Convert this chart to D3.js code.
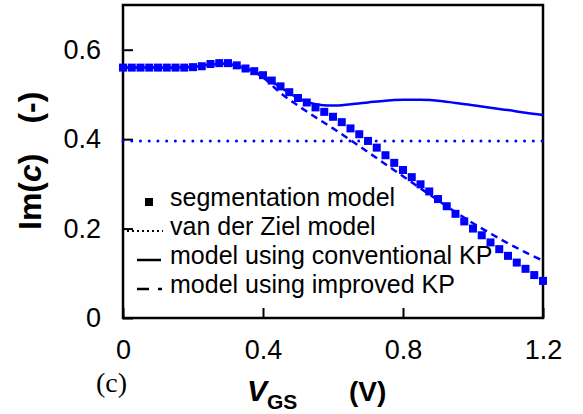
<!DOCTYPE html>
<html>
<head>
<meta charset="utf-8">
<script src="https://cdn.jsdelivr.net/npm/d3@7"></script>
<style>
  html, body { margin: 0; padding: 0; background: #fff; }
  svg { display: block; font-family: "Liberation Sans", Arial, sans-serif; }
</style>
</head>
<body>
<svg id="chart" width="583" height="414"></svg>
<script>
// Gate voltage sweep for the segmentation model (V)
const vgsSeg = [0, 0.025, 0.05, 0.075, 0.1, 0.125, 0.15, 0.175, 0.2, 0.225,
  0.25, 0.275, 0.3, 0.325, 0.35, 0.375, 0.4, 0.425, 0.45, 0.475,
  0.5, 0.525, 0.55, 0.575, 0.6, 0.625, 0.65, 0.675, 0.7, 0.725,
  0.75, 0.775, 0.8, 0.825, 0.85, 0.875, 0.9, 0.925, 0.95, 0.975,
  1.0, 1.025, 1.05, 1.075, 1.1, 1.125, 1.15, 1.175, 1.2];
// Im(c) from the segmentation model
const imSeg = [0.560, 0.560, 0.560, 0.560, 0.560, 0.560, 0.560, 0.560, 0.561, 0.563,
  0.568, 0.570, 0.570, 0.565, 0.558, 0.552, 0.543, 0.531, 0.518, 0.505,
  0.492, 0.482, 0.471, 0.461, 0.450, 0.438, 0.424, 0.411, 0.396, 0.381,
  0.364, 0.347, 0.331, 0.315, 0.299, 0.283, 0.266, 0.250, 0.233, 0.216,
  0.200, 0.185, 0.169, 0.154, 0.139, 0.124, 0.110, 0.096, 0.083];

// Gate voltage grid for the analytical models (V)
const vgsModel = [0, 0.05, 0.1, 0.15, 0.2, 0.25, 0.3, 0.35, 0.4, 0.45, 0.5, 0.55,
  0.6, 0.65, 0.7, 0.75, 0.8, 0.85, 0.9, 0.95, 1.0, 1.05, 1.1, 1.15, 1.2];
// Model using conventional KP
const imConvKP = [0.560, 0.560, 0.560, 0.560, 0.562, 0.567, 0.568, 0.558, 0.542, 0.516, 0.492, 0.478,
  0.475, 0.478, 0.482, 0.486, 0.488, 0.488, 0.486, 0.481, 0.476, 0.470, 0.465, 0.459, 0.454];
// Model using improved KP
const imImpKP = [0.560, 0.560, 0.560, 0.560, 0.562, 0.567, 0.568, 0.558, 0.538, 0.503, 0.475, 0.449,
  0.424, 0.398, 0.371, 0.344, 0.317, 0.290, 0.263, 0.237, 0.212, 0.189, 0.167, 0.147, 0.128];
// van der Ziel model (constant)
const vgsZiel = [0, 1.2];
const imZiel = [0.396, 0.396];

const xTicks = [0, 0.4, 0.8, 1.2];
const yTicks = [0, 0.2, 0.4, 0.6];

const legendLabels = ["segmentation model", "van der Ziel model",
  "model using conventional KP", "model using improved KP"];

const blue = "#0000ff";
const svg = d3.select("#chart");
const plotL = 123, plotR = 543, plotT = 5, plotB = 318;

const x = d3.scaleLinear().domain([0, 1.2]).range([plotL, plotR]);
const y = d3.scaleLinear().domain([0, 0.7]).range([plotB, plotT]);

const fmt = d => d === 0 ? "0" : d3.format(".1f")(d);

// axes with inward ticks
const gx = svg.append("g").attr("transform", `translate(0,${plotB})`)
  .call(d3.axisBottom(x).tickValues(xTicks).tickSize(-10).tickPadding(22).tickFormat(fmt));
const gy = svg.append("g").attr("transform", `translate(${plotL},0)`)
  .call(d3.axisLeft(y).tickValues(yTicks).tickSize(-10).tickPadding(22).tickFormat(fmt));
[gx, gy].forEach(g => {
  g.select(".domain").remove();
  g.selectAll(".tick line").attr("stroke", "#000").attr("stroke-width", 2);
  g.selectAll(".tick text").attr("font-size", 27).attr("fill", "#000")
    .attr("font-family", "Liberation Sans, Arial, sans-serif");
});

// plot frame
svg.append("rect").attr("x", plotL).attr("y", plotT)
  .attr("width", plotR - plotL).attr("height", plotB - plotT)
  .attr("fill", "none").attr("stroke", "#000").attr("stroke-width", 2.5);

const plot = svg.append("g");

// van der Ziel: dotted
plot.append("path")
  .attr("d", d3.line().x((d, i) => x(vgsZiel[i])).y(d => y(d))(imZiel))
  .attr("fill", "none").attr("stroke", blue).attr("stroke-width", 3)
  .attr("stroke-linecap", "round").attr("stroke-dasharray", "0.01 8.72");

const smooth = d3.line().curve(d3.curveCatmullRom.alpha(0.5))
  .x((d, i) => x(vgsModel[i])).y(d => y(d));

// conventional KP: solid
plot.append("path").attr("d", smooth(imConvKP))
  .attr("fill", "none").attr("stroke", blue).attr("stroke-width", 2.5);

// improved KP: dashed
plot.append("path").attr("d", smooth(imImpKP))
  .attr("fill", "none").attr("stroke", blue).attr("stroke-width", 2.5)
  .attr("stroke-dasharray", "7 5");

// segmentation model: squares
const sq = 8;
plot.selectAll("rect.seg").data(imSeg).enter().append("rect")
  .attr("class", "seg")
  .attr("x", (d, i) => x(vgsSeg[i]) - sq / 2)
  .attr("y", d => y(d) - sq / 2)
  .attr("width", sq).attr("height", sq)
  .attr("fill", blue);

// legend
const lg = svg.append("g");
const rowY = [202, 231, 260, 289];
const textX = 170;
lg.append("rect").attr("x", 145).attr("y", rowY[0] - 4).attr("width", 8).attr("height", 8).attr("fill", "#000");
lg.append("line").attr("x1", 127).attr("x2", 163).attr("y1", rowY[1]).attr("y2", rowY[1])
  .attr("stroke", "#000").attr("stroke-width", 2).attr("stroke-dasharray", "2 3");
lg.append("line").attr("x1", 137).attr("x2", 161).attr("y1", rowY[2]).attr("y2", rowY[2])
  .attr("stroke", "#000").attr("stroke-width", 2.5);
lg.append("line").attr("x1", 137).attr("x2", 162).attr("y1", rowY[3]).attr("y2", rowY[3])
  .attr("stroke", "#000").attr("stroke-width", 2.5).attr("stroke-dasharray", "12 9");
lg.selectAll("text").data(legendLabels).enter().append("text")
  .attr("x", textX).attr("y", (d, i) => rowY[i] + 4)
  .attr("font-size", 25).attr("fill", "#000").text(d => d);

// y axis title, reading upward from y = 230
const yt = svg.append("text")
  .attr("transform", "translate(41,230) rotate(-90)")
  .attr("text-anchor", "start").attr("font-size", 32).attr("font-weight", "bold");
yt.append("tspan").text("Im(");
yt.append("tspan").attr("font-style", "italic").text("c");
yt.append("tspan").text(")");
yt.append("tspan").attr("dx", 30).text("(-)");

// x axis title
const xt = svg.append("text").attr("y", 401).attr("font-weight", "bold");
xt.append("tspan").attr("x", 247).attr("font-size", 30).attr("font-style", "italic").text("V");
xt.append("tspan").attr("font-size", 21).attr("dy", 8).text("GS");
xt.append("tspan").attr("x", 349).attr("font-size", 28).attr("dy", -8).text("(V)");

// panel tag
svg.append("text").attr("x", 96).attr("y", 392)
  .attr("font-family", "Liberation Serif, Times New Roman, serif")
  .attr("font-size", 28).text("(c)");
</script>
</body>
</html>
